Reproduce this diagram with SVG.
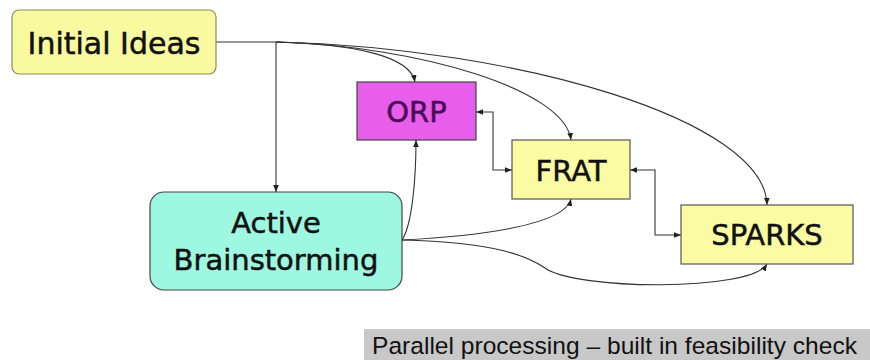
<svg xmlns="http://www.w3.org/2000/svg" width="870" height="360" viewBox="0 0 870 360">
<style>
.lbl{font-family:"DejaVu Sans","Verdana",sans-serif;font-size:29px;fill:#111;stroke:#111;stroke-width:0.5;text-anchor:middle}
.cn{fill:none;stroke:#333;stroke-width:1.1}
.yb{fill:#fafba3;stroke:#555;stroke-width:1.2}
</style>
<defs>
<marker id="ah" viewBox="0 0 10 10" refX="10" refY="5" markerWidth="7" markerHeight="7" orient="auto-start-reverse" markerUnits="userSpaceOnUse">
<path d="M0,1 L10,5 L0,9 z" fill="#222"/>
</marker>
</defs>
<rect width="870" height="360" fill="#fff"/>
<g id="connectors">
<path class="cn" d="M216,42 L276,42"/>
<path class="cn" d="M276,42 L276,192" marker-end="url(#ah)"/>
<path class="cn" d="M276,42 C350,44 410,55 415,82" marker-end="url(#ah)"/>
<path class="cn" d="M276,42 C420,46 565,90 571,140" marker-end="url(#ah)"/>
<path class="cn" d="M276,42 C520,48 765,120 767,205" marker-end="url(#ah)"/>
<path class="cn" d="M402,240 C412,225 416,180 416,140" marker-end="url(#ah)"/>
<path class="cn" d="M402,240 C480,236 565,225 571,199" marker-end="url(#ah)"/>
<path class="cn" d="M402,240 C500,242 530,258 545,268 C575,290 750,292 767,264" marker-end="url(#ah)"/>
<path class="cn" d="M476,112 L493,112 L493,170 L512,170" marker-start="url(#ah)" marker-end="url(#ah)"/>
<path class="cn" d="M630,170 L655,170 L655,235 L681,235" marker-start="url(#ah)" marker-end="url(#ah)"/>
</g>
<g id="initial-ideas">
<rect x="12" y="10" width="204" height="64" rx="7" fill="#f9fa9f" stroke="#8c8c5a" stroke-width="1.2"/>
<text class="lbl" x="114" y="54" style="font-size:30px">Initial Ideas</text>
</g>
<g id="orp">
<rect x="357" y="82" width="119" height="58" fill="#e65ee9" stroke="#444" stroke-width="1.2"/>
<text class="lbl" x="416.5" y="122" style="fill:#4a0a55;stroke:#4a0a55">ORP</text>
</g>
<g id="frat">
<rect class="yb" x="512" y="140" width="118" height="59"/>
<text class="lbl" x="571" y="181">FRAT</text>
</g>
<g id="sparks">
<rect class="yb" x="681" y="205" width="172" height="59"/>
<text class="lbl" x="767" y="245">SPARKS</text>
</g>
<g id="active-brainstorming">
<rect x="150" y="192" width="252" height="98" rx="14" fill="#9ef7e0" stroke="#444" stroke-width="1.2"/>
<text class="lbl" x="276" y="233">Active</text>
<text class="lbl" x="276" y="270">Brainstorming</text>
</g>
<g id="caption">
<rect x="364" y="329" width="506" height="31" fill="#c8c8c8"/>
<text x="372" y="354" font-family="Liberation Sans, Arial, sans-serif" font-size="24.5" fill="#111" textLength="485" lengthAdjust="spacingAndGlyphs">Parallel processing – built in feasibility check</text>
</g>
</svg>
